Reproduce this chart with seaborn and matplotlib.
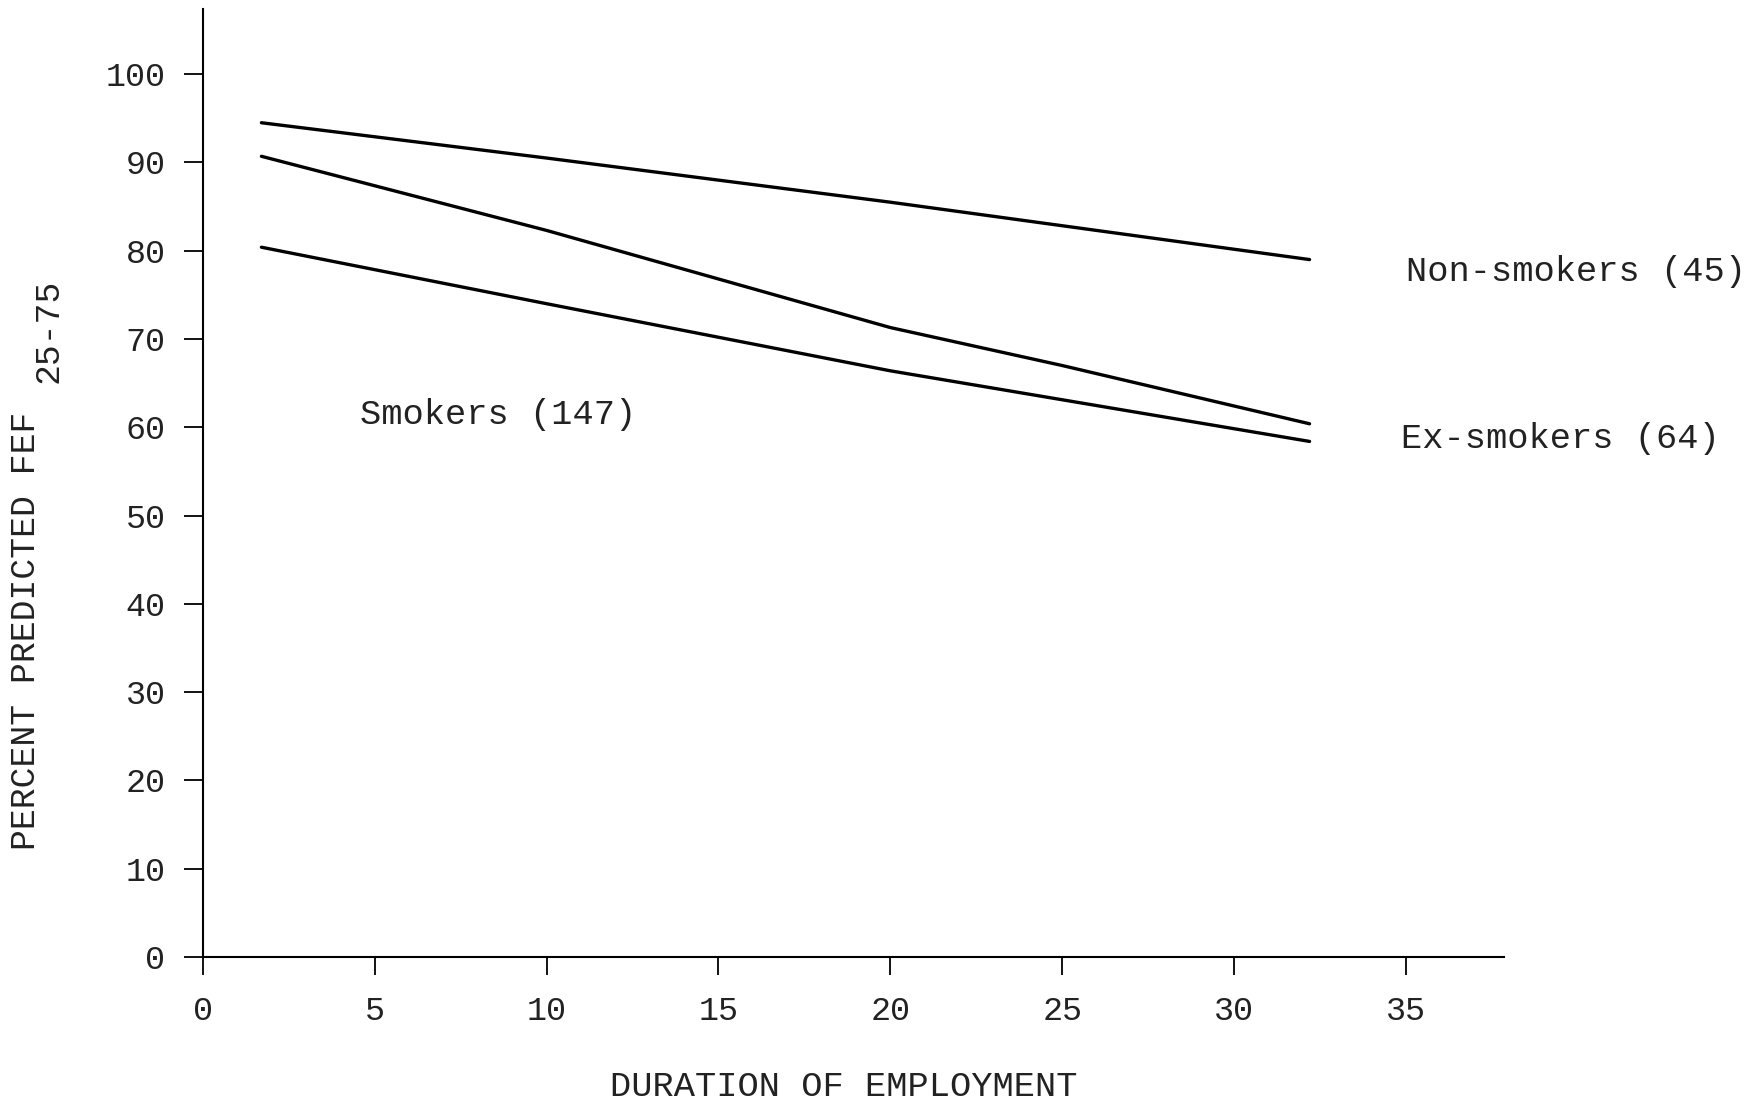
import matplotlib
matplotlib.use("Agg")
import matplotlib.pyplot as plt
import pandas as pd
import seaborn as sns

# values
non_x = [1.7, 10, 20, 32.2]
non_y = [94.5, 90.5, 85.5, 79.0]
ex_x = [1.7, 10, 20, 25, 32.2]
ex_y = [90.7, 82.3, 71.3, 67.0, 60.4]
smk_x = [1.7, 10, 20, 32.2]
smk_y = [80.4, 74.0, 66.4, 58.4]

x_ticks = [0, 5, 10, 15, 20, 25, 30, 35]
y_ticks = [0, 10, 20, 30, 40, 50, 60, 70, 80, 90, 100]

labels = ["Non-smokers (45)", "Ex-smokers (64)", "Smokers (147)"]

sns.set_style("white")
plt.rcParams['font.family'] = ['Liberation Mono', 'DejaVu Sans']

df = pd.concat([
    pd.DataFrame({'years': non_x, 'pct': non_y, 'group': 'non'}),
    pd.DataFrame({'years': ex_x, 'pct': ex_y, 'group': 'ex'}),
    pd.DataFrame({'years': smk_x, 'pct': smk_y, 'group': 'smk'}),
])

fig = plt.figure(figsize=(17.53, 11.08), dpi=100)
ax = fig.add_axes([0.1158, 0.1363, 0.742, 0.8557])

sns.lineplot(data=df, x='years', y='pct', hue='group', sort=False,
             palette={'non': 'black', 'ex': 'black', 'smk': 'black'},
             linewidth=2.4, legend=False, ax=ax)

ax.set_xlim(0, 37.85)
ax.set_ylim(0, 107.4)
ax.set_xticks(x_ticks)
ax.set_yticks(y_ticks)
ax.tick_params(axis='both', labelsize=24, width=1.3, color='black', labelcolor='#222222')
ax.tick_params(axis='y', length=14, pad=13, direction='out', left=True)
ax.tick_params(axis='x', length=13, pad=15, direction='out', bottom=True)

sns.despine(ax=ax, top=True, right=True)
for s in ['left', 'bottom']:
    ax.spines[s].set_linewidth(1.5)
    ax.spines[s].set_color('black')

ax.set_xlabel("")
ax.set_ylabel("")
txt = '#222222'
fig.text(0.4815, 0.019, "DURATION OF EMPLOYMENT", fontsize=25.5, color=txt,
         ha='center', va='center')
# y label with its subscript drawn as a second text
fig.text(0.0143, 0.2329, "PERCENT PREDICTED FEF", fontsize=25, color=txt,
         rotation=90, ha='center', va='bottom')
fig.text(0.0274, 0.654, "25-75", fontsize=25, color=txt,
         rotation=90, ha='center', va='bottom')

ax.text(35.0, 77.6, labels[0], fontsize=25.5, color=txt, va='center', ha='left')
ax.text(34.85, 58.7, labels[1], fontsize=25.5, color=txt, va='center', ha='left')
ax.text(4.57, 61.5, labels[2], fontsize=25.5, color=txt, va='center', ha='left')

fig.savefig("out.png", dpi=100)
